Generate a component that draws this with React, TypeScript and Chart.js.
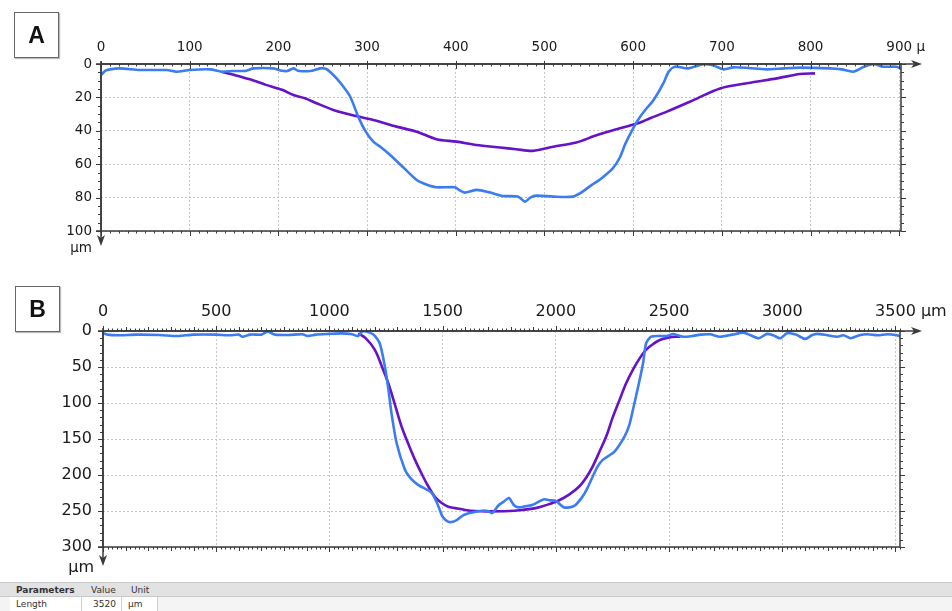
import React, { useEffect, useRef } from "react";
import { Chart, registerables } from "chart.js";

Chart.register(...registerables);

// ---------- Panel A data (µm) ----------
const A_X_TICKS = [0, 100, 200, 300, 400, 500, 600, 700, 800, 900];
const A_Y_TICKS = [0, 20, 40, 60, 80, 100];
const A_PROFILE_X = [0, 5, 10, 21, 44, 74, 85, 100, 123, 136, 149, 164, 172, 194, 204, 210, 217, 222, 236, 247, 254, 262, 271, 281, 290, 298, 307, 316, 326, 341, 356, 366, 378, 399, 404, 410, 424, 439, 453, 470, 478, 484, 491, 510, 532, 543, 553, 563, 577, 585, 591, 600, 608, 616, 623, 634, 640, 647, 662, 679, 690, 702, 713, 730, 750, 770, 788, 822, 835, 848, 859, 871, 882, 897, 902];
const A_PROFILE_Y = [6.6, 4, 3.2, 2.6, 3.6, 3.6, 4.6, 3.6, 3.2, 4.6, 4.2, 4, 2.6, 2.6, 4, 4.2, 2.6, 4, 4.2, 2.6, 3, 6.6, 12, 19.6, 31.5, 40, 46.5, 50, 54.5, 62, 69.5, 72, 73.8, 73.8, 75.5, 77, 75.4, 77, 79, 79.4, 82.4, 80, 78.8, 79.4, 79.4, 76.4, 72.5, 69, 62.5, 56, 48, 38.5, 31.5, 26, 21.6, 11.6, 4.6, 1.6, 2.6, 0.2, 0.8, 3.2, 2, 2.4, 3.2, 2.6, 2.2, 2.6, 3.2, 4.6, 2, 0, 1.6, 1.6, 2.8];
const A_FIT_X = [136, 150, 168, 186, 205, 217, 230, 243, 262, 286, 307, 333, 356, 378, 401, 423, 450, 468, 487, 510, 536, 557, 585, 608, 619, 638, 668, 698, 732, 762, 788, 805];
const A_FIT_Y = [4.6, 6.5, 9.2, 12.5, 15.6, 18.6, 20.5, 23.5, 27.5, 31, 33.5, 37.5, 40.5, 45, 46.5, 48.5, 50, 51, 52, 49.5, 47, 43, 38.5, 35, 32.5, 28.5, 21.6, 14.6, 11.2, 8.6, 6, 5.6];

// ---------- Panel B data (µm) ----------
const B_X_TICKS = [0, 500, 1000, 1500, 2000, 2500, 3000, 3500];
const B_Y_TICKS = [0, 50, 100, 150, 200, 250, 300];
const B_PROFILE_X = [0, 20, 60, 150, 250, 330, 400, 500, 560, 600, 616, 650, 700, 727, 760, 820, 880, 904, 940, 1000, 1052, 1100, 1127, 1149, 1193, 1222, 1245, 1260, 1274, 1297, 1334, 1360, 1393, 1452, 1482, 1500, 1526, 1545, 1563, 1590, 1615, 1674, 1700, 1718, 1748, 1770, 1793, 1815, 1837, 1870, 1896, 1948, 1970, 2000, 2037, 2081, 2118, 2140, 2163, 2185, 2207, 2259, 2303, 2325, 2340, 2362, 2385, 2399, 2421, 2459, 2490, 2518, 2562, 2600, 2640, 2681, 2725, 2780, 2829, 2860, 2896, 2933, 2960, 2992, 3022, 3060, 3102, 3130, 3155, 3200, 3244, 3270, 3302, 3340, 3376, 3420, 3465, 3500, 3520];
const B_PROFILE_Y = [3, 5, 6, 5, 5.5, 7, 5, 5, 6, 5, 8, 5, 5, 1, 5, 5.5, 4.5, 7, 5, 4, 3.3, 4.5, 7, 0, 4.6, 17, 49.6, 80, 114, 156, 193, 205, 214, 225, 244, 258, 265, 265, 262.5, 256, 253, 249.6, 250, 253, 241.7, 237, 232, 242, 245, 243, 241.7, 233.8, 235, 236, 245, 243, 230, 218, 202, 188, 179, 167.6, 146.8, 130, 110, 79.6, 45, 17, 7.9, 7, 7, 4.2, 7.9, 7, 5, 4.6, 8, 5, 2.3, 6, 10, 4, 6, 10, 3, 5, 11, 6, 4, 6, 7.9, 6, 10, 6, 4.6, 6, 4.6, 5.5, 7];
const B_FIT_X = [1127, 1160, 1200, 1230, 1260, 1290, 1319, 1350, 1378, 1410, 1437, 1465, 1496, 1525, 1556, 1600, 1644, 1700, 1793, 1850, 1911, 1960, 2015, 2060, 2103, 2135, 2163, 2192, 2222, 2250, 2281, 2310, 2340, 2370, 2399, 2430, 2459, 2500, 2533, 2550];
const B_FIT_Y = [3.3, 10, 26, 48, 72.6, 103, 133, 158, 179, 200, 216, 230, 239, 244, 246, 248.5, 250, 250.5, 250, 248.5, 246, 241.5, 235, 227, 216, 203, 188, 168, 147, 121, 96, 73, 54, 38, 26, 18, 12.5, 9, 7.9, 8];

const BLUE = "#3b7cf2";
const PURPLE = "#6612c6";
const AXIS = "#3a3a3a";
const GRID = "#c6c6c6";
const TEXT = "#1a1a1a";
const FONT = "'DejaVu Sans', Verdana, sans-serif";

type Series = { x: number[]; y: number[]; color: string; tension: number };
type PanelCfg = {
  top: number;
  height: number;
  area: { left: number; top: number; right: number; bottom: number };
  xMax: number;
  yMax: number;
  xTicks: number[];
  yTicks: number[];
  xMinor: number;
  xMid: number;
  yMinor: number;
  font: number;
  xPad: number;
  yPad: number;
  xUnit: string;
  topTicksUp: boolean;
  unitGap: number;
  arrowGap: number;
  series: Series[];
};

const PANEL_A: PanelCfg = {
  top: 0,
  height: 262,
  area: { left: 101, top: 64, right: 901, bottom: 231 },
  xMax: 902,
  yMax: 100,
  xTicks: A_X_TICKS,
  yTicks: A_Y_TICKS,
  xMinor: 10,
  xMid: 100,
  yMinor: 5,
  font: 13.5,
  xPad: 8,
  yPad: 9,
  xUnit: " µ",
  topTicksUp: false,
  unitGap: 17,
  arrowGap: 15,
  series: [
    { x: A_PROFILE_X, y: A_PROFILE_Y, color: BLUE, tension: 0.25 },
    { x: A_FIT_X, y: A_FIT_Y, color: PURPLE, tension: 0.3 },
  ],
};

const PANEL_B: PanelCfg = {
  top: 266,
  height: 314,
  area: { left: 103, top: 331, right: 900, bottom: 547 },
  xMax: 3520,
  yMax: 300,
  xTicks: B_X_TICKS,
  yTicks: B_Y_TICKS,
  xMinor: 20,
  xMid: 100,
  yMinor: 10,
  font: 16,
  xPad: 10,
  yPad: 11,
  xUnit: " µm",
  topTicksUp: true,
  unitGap: 21,
  arrowGap: 19,
  series: [
    { x: B_PROFILE_X, y: B_PROFILE_Y, color: BLUE, tension: 0.25 },
    { x: B_FIT_X, y: B_FIT_Y, color: PURPLE, tension: 0.35 },
  ],
};

function makeFramePlugin(cfg: PanelCfg) {
  return {
    id: "frame",
    afterDraw(chart: any) {
      const { ctx, chartArea: a, scales } = chart;
      const xs = scales.x;
      const ys = scales.y;
      ctx.save();
      ctx.strokeStyle = AXIS;
      ctx.fillStyle = AXIS;
      ctx.lineWidth = 1.5;
      ctx.strokeRect(a.left, a.top, a.right - a.left, a.bottom - a.top);

      // top axis extension + arrow
      const tipX = 922;
      ctx.beginPath();
      ctx.moveTo(a.left - 5, a.top);
      ctx.lineTo(tipX - 6, a.top);
      ctx.stroke();
      ctx.beginPath();
      ctx.moveTo(tipX, a.top);
      ctx.lineTo(tipX - 11, a.top - 4);
      ctx.lineTo(tipX - 8, a.top);
      ctx.lineTo(tipX - 11, a.top + 4);
      ctx.closePath();
      ctx.fill();

      // left axis extension + arrow
      const tipY = a.bottom + cfg.arrowGap;
      ctx.beginPath();
      ctx.moveTo(a.left, a.top - 3);
      ctx.lineTo(a.left, tipY - 6);
      ctx.stroke();
      ctx.beginPath();
      ctx.moveTo(a.left, tipY);
      ctx.lineTo(a.left - 4, tipY - 11);
      ctx.lineTo(a.left, tipY - 8);
      ctx.lineTo(a.left + 4, tipY - 11);
      ctx.closePath();
      ctx.fill();
      ctx.beginPath();
      ctx.moveTo(a.left - 5, a.bottom);
      ctx.lineTo(a.left, a.bottom);
      ctx.stroke();

      // minor / major ticks
      ctx.lineWidth = 1;
      const majorX = cfg.xTicks[1] - cfg.xTicks[0];
      const majorY = cfg.yTicks[1] - cfg.yTicks[0];
      const nX = Math.floor(cfg.xMax / cfg.xMinor);
      for (let i = 0; i <= nX; i++) {
        const v = i * cfg.xMinor;
        const px = Math.round(xs.getPixelForValue(v)) + 0.5;
        const isMajor = v % majorX === 0;
        const isMid = v % cfg.xMid === 0;
        const len = isMajor ? 5 : isMid ? 4 : 2.5;
        ctx.beginPath();
        if (cfg.topTicksUp) {
          ctx.moveTo(px, a.top);
          ctx.lineTo(px, a.top - len);
        } else {
          ctx.moveTo(px, a.top - (isMajor ? 3 : 0));
          ctx.lineTo(px, a.top + len);
        }
        ctx.moveTo(px, a.bottom);
        ctx.lineTo(px, a.bottom + len);
        ctx.stroke();
      }
      const nY = Math.floor(cfg.yMax / cfg.yMinor);
      for (let i = 0; i <= nY; i++) {
        const v = i * cfg.yMinor;
        const py = Math.round(ys.getPixelForValue(v)) + 0.5;
        const len = v % majorY === 0 ? 5 : 3;
        ctx.beginPath();
        ctx.moveTo(a.left, py);
        ctx.lineTo(a.left - len, py);
        ctx.moveTo(a.right, py);
        ctx.lineTo(a.right + len, py);
        ctx.stroke();
      }

      // unit after last x tick label
      ctx.font = `${cfg.font}px ${FONT}`;
      ctx.fillStyle = TEXT;
      ctx.textBaseline = "middle";
      const last = cfg.xTicks[cfg.xTicks.length - 1];
      const lw = ctx.measureText(String(last)).width;
      const labelMid = a.top - cfg.xPad - (cfg.font * 1.2) / 2;
      ctx.textAlign = "left";
      ctx.fillText(cfg.xUnit, xs.getPixelForValue(last) + lw / 2, labelMid);

      // y unit under the axis
      ctx.textAlign = "right";
      ctx.fillText("µm", a.left - 9, a.bottom + cfg.unitGap);
      ctx.restore();
    },
  };
}

function Panel({ cfg }: { cfg: PanelCfg }) {
  const ref = useRef<HTMLCanvasElement>(null);
  useEffect(() => {
    const canvas = ref.current;
    if (!canvas) return;
    const xAxisH = cfg.area.top - cfg.top;
    const yAxisW = cfg.area.left;
    const chart = new Chart(canvas, {
      type: "scatter",
      data: {
        datasets: cfg.series.map((s) => ({
          data: s.x.map((x, i) => ({ x, y: s.y[i] })),
          showLine: true,
          borderColor: s.color,
          backgroundColor: s.color,
          borderWidth: 2.6,
          pointRadius: 0,
          tension: s.tension,
          fill: false,
        })),
      },
      options: {
        responsive: false,
        animation: false,
        devicePixelRatio: 1,
        layout: {
          padding: {
            left: 0,
            top: 0,
            right: 952 - cfg.area.right,
            bottom: cfg.top + cfg.height - cfg.area.bottom,
          },
        },
        plugins: { legend: { display: false }, tooltip: { enabled: false } },
        scales: {
          x: {
            type: "linear",
            position: "top",
            min: 0,
            max: cfg.xMax,
            afterBuildTicks: (scale: any) => {
              scale.ticks = cfg.xTicks.map((v) => ({ value: v }));
            },
            afterFit: (scale: any) => {
              scale.height = xAxisH;
            },
            ticks: {
              autoSkip: false,
              maxRotation: 0,
              padding: cfg.xPad,
              color: TEXT,
              font: { family: FONT, size: cfg.font },
              callback: (v: any) => String(v),
            },
            grid: { color: GRID, lineWidth: 1, drawTicks: false },
            border: { display: false, dash: [2, 2] },
          },
          y: {
            type: "linear",
            reverse: true,
            min: 0,
            max: cfg.yMax,
            afterBuildTicks: (scale: any) => {
              scale.ticks = cfg.yTicks.map((v) => ({ value: v }));
            },
            afterFit: (scale: any) => {
              scale.width = yAxisW;
            },
            ticks: {
              autoSkip: false,
              padding: cfg.yPad,
              color: TEXT,
              font: { family: FONT, size: cfg.font },
              callback: (v: any) => String(v),
            },
            grid: { color: GRID, lineWidth: 1, drawTicks: false },
            border: { display: false, dash: [2, 2] },
          },
        },
      },
      plugins: [makeFramePlugin(cfg)],
    } as any);
    return () => chart.destroy();
  }, [cfg]);
  return (
    <canvas
      ref={ref}
      width={952}
      height={cfg.height}
      style={{ position: "absolute", left: 0, top: cfg.top, width: 952, height: cfg.height }}
    />
  );
}

const boxStyle: React.CSSProperties = {
  position: "absolute",
  width: 43,
  height: 44,
  border: "1px solid #666",
  background: "#fff",
  display: "flex",
  alignItems: "center",
  justifyContent: "center",
  fontFamily: "'Liberation Sans', Arial, sans-serif",
  fontWeight: "bold",
  fontSize: 23,
  color: "#111",
  boxShadow: "1px 1px 1px #bbb",
};

const cell = (extra: React.CSSProperties): React.CSSProperties => ({
  position: "absolute",
  top: 0,
  height: "100%",
  boxSizing: "border-box",
  display: "flex",
  alignItems: "center",
  ...extra,
});

export default function App() {
  return (
    <div
      style={{
        position: "absolute",
        left: 0,
        top: 0,
        width: 952,
        height: 611,
        background: "#fff",
        overflow: "hidden",
      }}
    >
      <Panel cfg={PANEL_A} />
      <Panel cfg={PANEL_B} />
      <div style={{ ...boxStyle, left: 14, top: 12 }}>A</div>
      <div style={{ ...boxStyle, left: 15, top: 286 }}>B</div>

      {/* parameters table */}
      <div
        style={{
          position: "absolute",
          left: 0,
          top: 582,
          width: 952,
          height: 29,
          fontFamily: FONT,
          fontSize: 9,
          color: "#333",
        }}
      >
        <div
          style={{
            position: "absolute",
            left: 0,
            top: 0,
            width: 952,
            height: 15,
            background: "#e2e2e2",
            borderTop: "1px solid #c9c9c9",
            borderBottom: "1px solid #c9c9c9",
            boxSizing: "border-box",
          }}
        >
          <div style={cell({ left: 16, fontWeight: "bold" })}>Parameters</div>
          <div style={cell({ left: 91 })}>Value</div>
          <div style={cell({ left: 131 })}>Unit</div>
        </div>
        <div
          style={{
            position: "absolute",
            left: 0,
            top: 15,
            width: 952,
            height: 14,
            background: "#f4f4f4",
          }}
        >
          <div style={cell({ left: 10, width: 72, background: "#fff", borderRight: "1px solid #d0d0d0", paddingLeft: 6 })}>Length</div>
          <div style={cell({ left: 82, width: 40, background: "#fff", borderRight: "1px solid #d0d0d0", justifyContent: "flex-end", paddingRight: 5 })}>3520</div>
          <div style={cell({ left: 122, width: 36, background: "#fff", borderRight: "1px solid #d0d0d0", paddingLeft: 6 })}>µm</div>
        </div>
      </div>
    </div>
  );
}
